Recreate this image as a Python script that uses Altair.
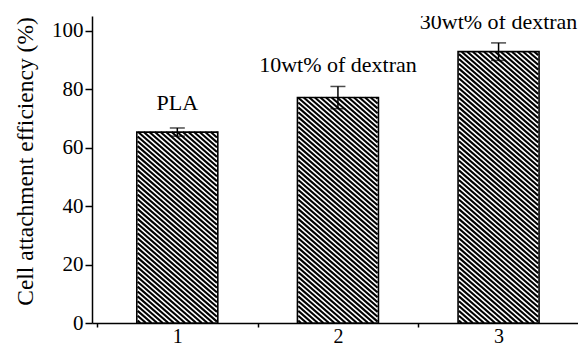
import altair as alt
import pandas as pd

# ---- data ----
categories = [1, 2, 3]
values = [65.3, 77.1, 92.8]
errors = [1.4, 3.8, 3.0]
labels = ["PLA", "10wt% of dextran", "30wt% of dextran"]
label_y = [72.7, 85.8, 100.7]
y_ticks = [0, 10, 20, 30, 40, 50, 60, 70, 80, 90, 100]
x_ticks = [0.5, 1, 1.5, 2, 2.5, 3]

# ---- layout ----
W, H = 486, 307
X_MIN = 0.5
PX_X = 164.0                      # pixels per x unit
X_MAX = X_MIN + W / PX_X
Y_MAX = 105
PX_Y = H / Y_MAX                  # pixels per y unit
BAR_PX = 81
HATCH_H = 5.7                     # horizontal spacing of hatch lines (px)
HATCH_SLOPE = 0.85                # pixel drop per pixel to the right
FONT = "Liberation Serif"

bars = pd.DataFrame({
    "cat": categories, "value": values,
    "lo": [v - e for v, e in zip(values, errors)],
    "hi": [v + e for v, e in zip(values, errors)],
    "label": labels, "ly": label_y,
})

# hatch lines ("\" direction) built from the bar values, in data units
rows = []
s = HATCH_SLOPE
for c_, v in zip(categories, values):
    bw = BAR_PX
    bh = v * PX_Y
    x0 = c_ - (BAR_PX / 2) / PX_X
    c = s * HATCH_H / 2
    while c < s * bw + bh:
        us = max(0.0, (c - bh) / s)
        vs = c - s * us
        ue = min(bw, c / s)
        ve = c - s * ue
        if ue > us:
            rows.append({"x": x0 + us / PX_X, "y": vs / PX_Y,
                         "x2": x0 + ue / PX_X, "y2": ve / PX_Y})
        c += s * HATCH_H
hatch = pd.DataFrame(rows)

xscale = alt.Scale(domain=[X_MIN, X_MAX], nice=False, zero=False)
yscale = alt.Scale(domain=[0, Y_MAX], nice=False)

x_axis = alt.Axis(
    values=x_ticks, title=None, grid=False,
    labelExpr="datum.value % 1 === 0 ? format(datum.value, 'd') : ''",
    tickColor={"condition": {"test": "datum.value % 1 === 0", "value": "transparent"}, "value": "black"},
    tickSize=4, labelPadding=-1, labelFlush=False,
    labelFont=FONT, labelFontSize=20,
)
y_axis = alt.Axis(
    values=y_ticks, title="Cell attachment efficiency (%)", grid=False,
    labelExpr="datum.value % 20 === 0 ? format(datum.value, 'd') : ''",
    tickSize=7, tickColor="black", labelPadding=2,
    labelFont=FONT, titleFont=FONT,
    titleX=-60, titleY=145, titleBaseline="alphabetic",
)

base = alt.Chart(bars)

bar_fill = base.mark_bar(size=BAR_PX, color="white").encode(
    x=alt.X("cat:Q", scale=xscale, axis=x_axis),
    y=alt.Y("value:Q", scale=yscale, axis=y_axis),
)

hatch_layer = alt.Chart(hatch).mark_rule(color="black", strokeWidth=2.1).encode(
    x=alt.X("x:Q", scale=xscale), y=alt.Y("y:Q", scale=yscale),
    x2="x2:Q", y2="y2:Q",
)

bar_outline = base.mark_bar(size=BAR_PX, fill="transparent", stroke="black", strokeWidth=1.6).encode(
    x=alt.X("cat:Q", scale=xscale), y=alt.Y("value:Q", scale=yscale),
)

err_rule = base.mark_rule(color="black", strokeWidth=1.5).encode(
    x=alt.X("cat:Q", scale=xscale), y=alt.Y("lo:Q", scale=yscale), y2="hi:Q",
)
cap_hi = base.mark_tick(orient="horizontal", size=15, thickness=1.5, color="black").encode(
    x=alt.X("cat:Q", scale=xscale), y=alt.Y("hi:Q", scale=yscale),
)
cap_lo = base.mark_tick(orient="horizontal", size=15, thickness=1.5, color="black").encode(
    x=alt.X("cat:Q", scale=xscale), y=alt.Y("lo:Q", scale=yscale),
)

text = base.mark_text(font=FONT, fontSize=22, color="black", baseline="alphabetic",
                      align="center", clip=True).encode(
    x=alt.X("cat:Q", scale=xscale), y=alt.Y("ly:Q", scale=yscale),
    text="label:N",
)

chart = alt.layer(bar_fill, hatch_layer, bar_outline, err_rule, cap_hi, cap_lo, text).properties(
    width=W, height=H,
    autosize=alt.AutoSizeParams(type="none"),
    padding={"left": 92, "top": 16, "right": 0, "bottom": 23},
    background="white",
).configure_view(stroke=None).configure_axis(
    labelFont=FONT, titleFont=FONT, labelFontSize=21, titleFontSize=23.5,
    titleFontWeight="normal", labelColor="black", titleColor="black",
    domainColor="black", domainWidth=1.5, tickWidth=1.5, grid=False,
).configure_text(font=FONT)

chart.save("out.html", embed_options={"renderer": "svg", "actions": False})
